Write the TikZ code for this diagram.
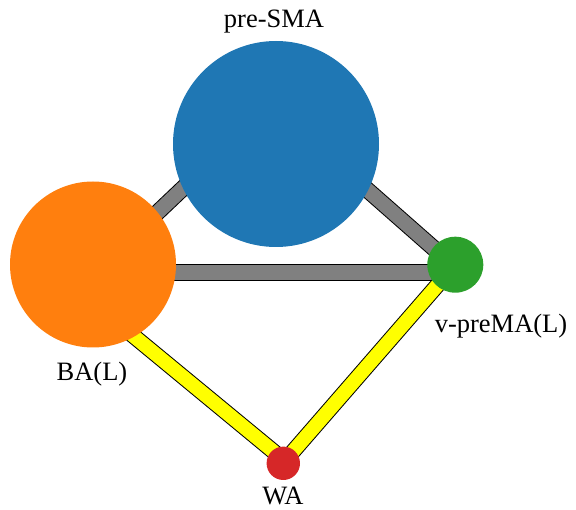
\documentclass[tikz,border=0pt]{standalone}
\usepackage{fontspec}
\setmainfont{Liberation Serif}
\definecolor{tabblue}{HTML}{1F77B4}
\definecolor{taborange}{HTML}{FF7F0E}
\definecolor{tabgreen}{HTML}{2CA02C}
\definecolor{tabred}{HTML}{D62728}
\definecolor{edgegray}{HTML}{808080}
\definecolor{edgeyellow}{HTML}{FFFF00}
\begin{document}
\begin{tikzpicture}[x=1pt,y=-1pt,
  nd/.style={circle, inner sep=0pt, draw=none, minimum size=#1},
  lbl/.style={font=\fontsize{26.5}{26.5}\selectfont, anchor=base, inner sep=0pt, text=black},
  gedge/.style={line width=1pt, draw=black, double=edgegray, double distance=14.5pt},
  yedge/.style={line width=1pt, draw=black, double=edgeyellow, double distance=14pt}]
\useasboundingbox (0,0) rectangle (576,510);
% edge end points
\coordinate (e1a) at (120,248.1);
\coordinate (e1b) at (230,143.6);
\coordinate (e2a) at (330,157);
\coordinate (e2b) at (455,267);
\coordinate (e3a) at (93,272.5);
\coordinate (e3b) at (455,272.5);
\coordinate (e4a) at (120,324.8);
\coordinate (e4b) at (283,459.3);
\coordinate (e5a) at (455,265);
\coordinate (e5b) at (283,463);
% edges
\draw[gedge] (e1a) -- (e1b);
\draw[gedge] (e2a) -- (e2b);
\draw[gedge] (e3a) -- (e3b);
\draw[yedge] (e4a) -- (e4b);
\draw[yedge] (e5a) -- (e5b);
% nodes
\node[nd=206pt, fill=tabblue] (presma) at (276,144) {};
\node[nd=166pt, fill=taborange] (ba) at (93,264.5) {};
\node[nd=56pt, fill=tabgreen] (vpre) at (455.3,264.7) {};
\node[nd=33.4pt, fill=tabred] (wa) at (283.3,463.3) {};
% labels
\node[lbl] (lpresma) at (274,28) {pre-SMA};
\node[lbl] (lba) at (92,381) {BA(L)};
\node[lbl] (lvpre) at (501,333) {v-preMA(L)};
\node[lbl] (lwa) at (283,504) {WA};
\end{tikzpicture}
\end{document}
